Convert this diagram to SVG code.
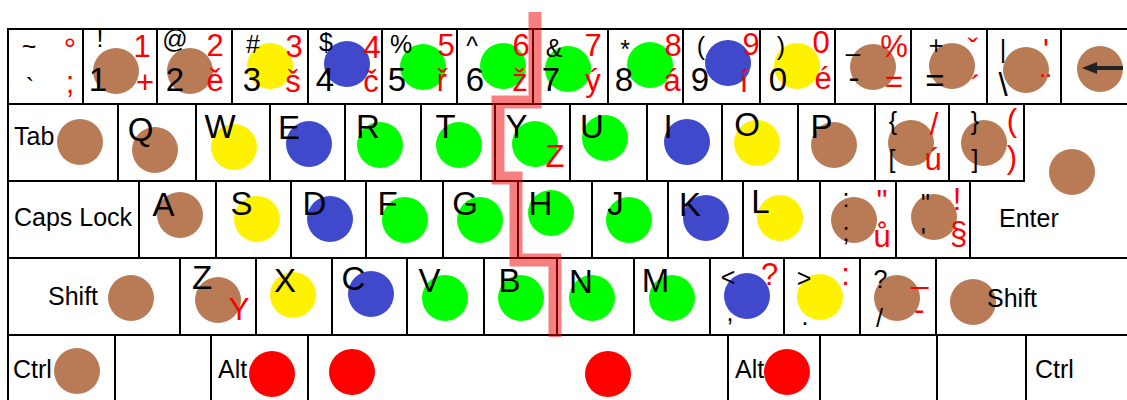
<svg xmlns="http://www.w3.org/2000/svg" width="1127" height="400" viewBox="0 0 1127 400">
<style>
.key{fill:#fff;stroke:#000;stroke-width:2}
.br{fill:#b97a56}.ye{fill:#fff200}.bl{fill:#4048cc}.gr{fill:#00ff00}.rd{fill:#ff0000}
text{font-family:"Liberation Sans",Arial,Helvetica,sans-serif}
.k{font-size:33px;fill:#000;text-anchor:middle}
.u{font-size:25px;fill:#000;text-anchor:middle}
.r{font-size:31px;fill:#f00;text-anchor:middle}
.n{font-size:25px;fill:#000}
.div{fill:none;stroke:#ee0000;stroke-opacity:0.5;stroke-width:13;stroke-linejoin:miter}
</style>
<rect width="1127" height="400" fill="#fff"/>
<!-- Row 1 -->
<g id="k-grave"><rect class="key" x="8" y="29" width="75" height="75"/><text class="u" x="29" y="55">~</text><text class="u" x="30" y="96">`</text><text class="r" x="70" y="60">°</text><text class="r" x="70" y="93">;</text></g>
<g id="k-1"><rect class="key" x="83" y="29" width="74" height="75"/><circle class="br" cx="116" cy="71" r="23"/><text class="u" x="100" y="47" font-size="22">!</text><text class="k" x="98" y="91">1</text><text class="r" x="142" y="57">1</text><text class="r" x="145" y="93">+</text></g>
<g id="k-2"><rect class="key" x="157" y="29" width="75" height="75"/><circle class="br" cx="190" cy="71" r="23"/><text class="u" x="175" y="48">@</text><text class="k" x="175" y="91">2</text><text class="r" x="215" y="56">2</text><text class="r" x="215" y="91">ě</text></g>
<g id="k-3"><rect class="key" x="232" y="29" width="76" height="75"/><circle class="ye" cx="270" cy="66" r="23"/><text class="u" x="253" y="53" font-size="22">#</text><text class="k" x="252" y="91">3</text><text class="r" x="294" y="57">3</text><text class="r" x="293" y="92">š</text></g>
<g id="k-4"><rect class="key" x="308" y="29" width="74" height="75"/><circle class="bl" cx="347" cy="64" r="23"/><text class="u" x="326" y="51">$</text><text class="k" x="325" y="91">4</text><text class="r" x="372" y="58">4</text><text class="r" x="371" y="92">č</text></g>
<g id="k-5"><rect class="key" x="382" y="29" width="75" height="75"/><circle class="gr" cx="423" cy="67" r="23"/><text class="u" x="401" y="53">%</text><text class="k" x="397" y="91">5</text><text class="r" x="446" y="56">5</text><text class="r" x="442" y="91">ř</text></g>
<g id="k-6"><rect class="key" x="457" y="29" width="76" height="75"/><circle class="gr" cx="503" cy="66" r="23"/><text class="u" x="472" y="55">^</text><text class="k" x="475" y="91">6</text><text class="r" x="521" y="56">6</text><text class="r" x="520" y="91">ž</text></g>
<g id="k-7"><rect class="key" x="533" y="29" width="75" height="75"/><circle class="gr" cx="568" cy="69" r="23"/><text class="u" x="554" y="57">&amp;</text><text class="k" x="551" y="91">7</text><text class="r" x="593" y="56">7</text><text class="r" x="593" y="91">ý</text></g>
<g id="k-8"><rect class="key" x="608" y="29" width="75" height="75"/><circle class="gr" cx="650" cy="65" r="23"/><text class="u" x="625" y="58">*</text><text class="k" x="624" y="91">8</text><text class="r" x="673" y="56">8</text><text class="r" x="672" y="91">á</text></g>
<g id="k-9"><rect class="key" x="683" y="29" width="77" height="75"/><circle class="bl" cx="728" cy="63" r="23"/><text class="u" x="701" y="55">(</text><text class="k" x="700" y="91">9</text><text class="r" x="751" y="55">9</text><text class="r" x="744" y="92">í</text></g>
<g id="k-0"><rect class="key" x="760" y="29" width="75" height="75"/><circle class="ye" cx="797" cy="66" r="23"/><text class="u" x="781" y="55">)</text><text class="k" x="778" y="91">0</text><text class="r" x="821" y="53">0</text><text class="r" x="823" y="89">é</text></g>
<g id="k-minus"><rect class="key" x="835" y="29" width="76" height="75"/><circle class="br" cx="873" cy="67" r="23"/><text class="u" x="853" y="51">_</text><text class="k" x="854" y="89">-</text><text class="r" x="894" y="57">%</text><text class="r" x="894" y="92">=</text></g>
<g id="k-equal"><rect class="key" x="911" y="29" width="76" height="75"/><circle class="br" cx="952" cy="66" r="23"/><text class="u" x="936" y="54" font-size="26">+</text><text class="k" x="935" y="92">=</text><text class="r" x="973" y="61" font-size="24">ˇ</text><text class="r" x="976" y="98" font-size="24">´</text></g>
<g id="k-backslash"><rect class="key" x="987" y="29" width="74" height="75"/><circle class="br" cx="1026" cy="70" r="23"/><text class="u" x="1003" y="58" font-size="28">|</text><text class="k" x="1003" y="96" font-size="32">\</text><text class="r" x="1046" y="61" font-size="24">'</text><text class="r" x="1046" y="96" font-size="24">¨</text></g>
<g id="k-backspace"><rect class="key" x="1061" y="29" width="75" height="75"/><circle class="br" cx="1100" cy="69" r="23"/><path d="M1095,68 H1123" stroke="#222" stroke-width="4" fill="none"/><polygon points="1082,68 1097,62 1097,74" fill="#222"/></g>
<!-- Row 2 -->
<g id="k-tab"><rect class="key" x="8" y="104" width="110" height="77"/><circle class="br" cx="80" cy="142" r="23"/><text class="n" x="14" y="145">Tab</text></g>
<g id="k-q"><rect class="key" x="118" y="104" width="78" height="77"/><circle class="br" cx="155" cy="150" r="23"/><text class="k" x="140.5" y="141">Q</text></g>
<g id="k-w"><rect class="key" x="196" y="104" width="74" height="77"/><circle class="ye" cx="234" cy="147" r="23"/><text class="k" x="220" y="138">W</text></g>
<g id="k-e"><rect class="key" x="270" y="104" width="75" height="77"/><circle class="bl" cx="309" cy="144" r="23"/><text class="k" x="289" y="139">E</text></g>
<g id="k-r"><rect class="key" x="345" y="104" width="76" height="77"/><circle class="gr" cx="380" cy="145" r="23"/><text class="k" x="368" y="138">R</text></g>
<g id="k-t"><rect class="key" x="421" y="104" width="74" height="77"/><circle class="gr" cx="459" cy="145" r="23"/><text class="k" x="445.5" y="138">T</text></g>
<g id="k-y"><rect class="key" x="495" y="104" width="75" height="77"/><circle class="gr" cx="535" cy="144" r="23"/><text class="k" x="516.5" y="138">Y</text><text class="r" x="555" y="167" font-size="30">Z</text></g>
<g id="k-u"><rect class="key" x="570" y="104" width="77" height="77"/><circle class="gr" cx="605" cy="138" r="23"/><text class="k" x="592" y="138">U</text></g>
<g id="k-i"><rect class="key" x="647" y="104" width="75" height="77"/><circle class="bl" cx="687" cy="142" r="23"/><text class="k" x="668" y="138">I</text></g>
<g id="k-o"><rect class="key" x="722" y="104" width="76" height="77"/><circle class="ye" cx="757" cy="143" r="23"/><text class="k" x="747" y="136">O</text></g>
<g id="k-p"><rect class="key" x="798" y="104" width="77" height="77"/><circle class="br" cx="834" cy="145" r="23"/><text class="k" x="821.5" y="138">P</text></g>
<g id="k-lbracket"><rect class="key" x="875" y="104" width="74" height="77"/><circle class="br" cx="911" cy="143" r="23"/><text class="u" x="893" y="130" font-size="28">{</text><text class="u" x="892" y="168" font-size="28">[</text><text class="r" x="934" y="135">/</text><text class="r" x="933" y="170">ú</text></g>
<g id="k-rbracket"><rect class="key" x="949" y="104" width="75" height="77"/><circle class="br" cx="984" cy="143" r="23"/><text class="u" x="975" y="130" font-size="28">}</text><text class="u" x="975" y="168" font-size="28">]</text><text class="r" x="1012" y="131" font-size="28">(</text><text class="r" x="1012" y="168" font-size="28">)</text></g>
<g id="k-enter"><path class="key" d="M1024,104 H1136 V258 H970 V181 H1024 Z"/><circle class="br" cx="1072" cy="172" r="23"/><text class="n" x="999" y="227">Enter</text></g>
<!-- Row 3 -->
<g id="k-caps"><rect class="key" x="8" y="181" width="131" height="77"/><text class="n" x="14" y="226">Caps Lock</text></g>
<g id="k-a"><rect class="key" x="139" y="181" width="77" height="77"/><circle class="br" cx="180" cy="215" r="23"/><text class="k" x="163.5" y="216">A</text></g>
<g id="k-s"><rect class="key" x="216" y="181" width="75" height="77"/><circle class="ye" cx="257" cy="219" r="23"/><text class="k" x="241.5" y="215">S</text></g>
<g id="k-d"><rect class="key" x="291" y="181" width="75" height="77"/><circle class="bl" cx="330" cy="219" r="23"/><text class="k" x="314.5" y="215">D</text></g>
<g id="k-f"><rect class="key" x="366" y="181" width="77" height="77"/><circle class="gr" cx="405" cy="220" r="23"/><text class="k" x="387.5" y="215">F</text></g>
<g id="k-g"><rect class="key" x="443" y="181" width="75" height="77"/><circle class="gr" cx="480" cy="220" r="23"/><text class="k" x="465" y="215">G</text></g>
<g id="k-h"><rect class="key" x="518" y="181" width="74" height="77"/><circle class="gr" cx="551" cy="213" r="23"/><text class="k" x="540.5" y="215">H</text></g>
<g id="k-j"><rect class="key" x="592" y="181" width="76" height="77"/><circle class="gr" cx="629" cy="220" r="23"/><text class="k" x="615.5" y="215">J</text></g>
<g id="k-k"><rect class="key" x="668" y="181" width="75" height="77"/><circle class="bl" cx="706" cy="218" r="23"/><text class="k" x="690" y="216">K</text></g>
<g id="k-l"><rect class="key" x="743" y="181" width="77" height="77"/><circle class="ye" cx="780" cy="218" r="23"/><text class="k" x="760.5" y="213">L</text></g>
<g id="k-semicolon"><rect class="key" x="820" y="181" width="76" height="77"/><circle class="br" cx="854" cy="220" r="23"/><text class="u" x="846" y="207" font-size="26">:</text><text class="u" x="846" y="241" font-size="26">;</text><text class="r" x="882" y="212" font-size="26">"</text><text class="r" x="882" y="247">ů</text></g>
<g id="k-quote"><rect class="key" x="896" y="181" width="74" height="77"/><circle class="br" cx="934" cy="217" r="23"/><text class="u" x="925.5" y="212" font-size="26">"</text><text class="u" x="923.5" y="246" font-size="26">'</text><text class="r" x="957" y="210">!</text><text class="r" x="958.5" y="244">§</text></g>
<!-- Row 4 -->
<g id="k-lshift"><rect class="key" x="8" y="258" width="172" height="77"/><circle class="br" cx="131" cy="298" r="23"/><text class="n" x="48" y="305">Shift</text></g>
<g id="k-z"><rect class="key" x="180" y="258" width="76" height="77"/><circle class="br" cx="218" cy="300" r="23"/><text class="k" x="202" y="289">Z</text><text class="r" x="239" y="320" font-size="30">Y</text></g>
<g id="k-x"><rect class="key" x="256" y="258" width="76" height="77"/><circle class="ye" cx="293" cy="295" r="23"/><text class="k" x="285" y="292">X</text></g>
<g id="k-c"><rect class="key" x="332" y="258" width="75" height="77"/><circle class="bl" cx="371" cy="294" r="23"/><text class="k" x="353.5" y="290">C</text></g>
<g id="k-v"><rect class="key" x="407" y="258" width="77" height="77"/><circle class="gr" cx="445" cy="298" r="23"/><text class="k" x="429.5" y="292">V</text></g>
<g id="k-b"><rect class="key" x="484" y="258" width="73" height="77"/><circle class="gr" cx="521" cy="298" r="23"/><text class="k" x="509.5" y="292">B</text></g>
<g id="k-n"><rect class="key" x="557" y="258" width="77" height="77"/><circle class="gr" cx="592" cy="298" r="23"/><text class="k" x="581" y="293">N</text></g>
<g id="k-m"><rect class="key" x="634" y="258" width="76" height="77"/><circle class="gr" cx="672" cy="298" r="23"/><text class="k" x="655.5" y="292">M</text></g>
<g id="k-comma"><rect class="key" x="710" y="258" width="74" height="77"/><circle class="bl" cx="747" cy="296" r="23"/><text class="u" x="728" y="286">&lt;</text><text class="u" x="730" y="321">,</text><text class="r" x="769.5" y="285">?</text></g>
<g id="k-period"><rect class="key" x="784" y="258" width="76" height="77"/><circle class="ye" cx="820" cy="297" r="23"/><text class="u" x="804" y="287">&gt;</text><text class="u" x="805" y="325">.</text><text class="r" x="845.5" y="285">:</text></g>
<g id="k-slash"><rect class="key" x="860" y="258" width="76" height="77"/><circle class="br" cx="897" cy="298" r="23"/><text class="u" x="880.5" y="288" font-size="28">?</text><text class="u" x="879.5" y="327" font-size="30">/</text><text class="r" x="919.5" y="283" font-size="30">_</text><text class="r" x="919.5" y="320" font-size="30">-</text></g>
<g id="k-rshift"><rect class="key" x="936" y="258" width="200" height="77"/><circle class="br" cx="973" cy="302" r="23"/><text class="n" x="987" y="307">Shift</text></g>
<!-- Row 5 -->
<g id="k-lctrl"><rect class="key" x="8" y="335" width="107" height="70"/><circle class="br" cx="77" cy="371" r="23"/><text class="n" x="13" y="378">Ctrl</text></g>
<g id="k-lwin"><rect class="key" x="115" y="335" width="96" height="70"/></g>
<g id="k-lalt"><rect class="key" x="211" y="335" width="97" height="70"/><circle class="rd" cx="272" cy="374" r="23"/><text class="n" x="218" y="378">Alt</text></g>
<g id="k-space"><rect class="key" x="308" y="335" width="420" height="70"/><circle class="rd" cx="352" cy="372" r="23"/><circle class="rd" cx="608" cy="374" r="23"/></g>
<g id="k-ralt"><rect class="key" x="728" y="335" width="92" height="70"/><text class="n" x="735" y="378">Alt</text><circle class="rd" cx="787" cy="372" r="23"/></g>
<g id="k-rwin"><rect class="key" x="820" y="335" width="117" height="70"/></g>
<g id="k-menu"><rect class="key" x="937" y="335" width="89" height="70"/></g>
<g id="k-rctrl"><rect class="key" x="1026" y="335" width="110" height="70"/><text class="n" x="1035" y="378">Ctrl</text></g>
<!-- hand divider -->
<g id="connectors"><path class="div" d="M535,12 V102 H498 V178 H516 V260 H555 V337"/></g>
</svg>
